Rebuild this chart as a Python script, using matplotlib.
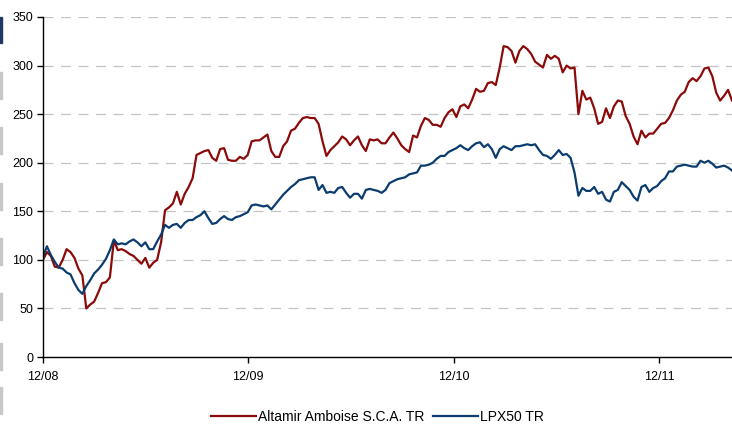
import matplotlib
matplotlib.use("Agg")
from matplotlib import pyplot as plt
import matplotlib.dates as mdates
from matplotlib.patches import Rectangle
import numpy as np
import pandas as pd

plt.rcParams["font.family"] = ["Liberation Sans", "DejaVu Sans"]

# weekly closes, rebased to 100 at 12/08
start = "2008-12-01"
altamir = [
    100, 108, 104, 93, 92, 100, 111, 108, 102, 91, 84, 50, 54, 57, 66, 76, 77, 82, 120, 110,
    111, 109, 106, 104, 100, 96, 102, 92, 97, 100, 118, 151, 154, 158, 170, 157, 168, 175, 184, 208,
    210, 212, 213, 205, 202, 214, 215, 203, 202, 202, 206, 204, 208, 222, 223, 223, 226, 229, 212, 206,
    206, 217, 222, 233, 235, 241, 246, 247, 246, 246, 240, 222, 207, 213, 217, 221, 227, 224, 218, 223,
    227, 218, 212, 224, 223, 224, 220, 220, 226, 231, 225, 218, 214, 211, 228, 226, 238, 246, 244, 239,
    239, 237, 246, 252, 255, 247, 258, 260, 256, 265, 276, 273, 274, 282, 283, 280, 298, 320, 319, 315,
    303, 315, 320, 317, 312, 304, 301, 298, 311, 307, 310, 307, 293, 300, 297, 298, 250, 274, 265, 267,
    256, 240, 242, 256, 246, 258, 264, 263, 248, 240, 227, 219, 233, 226, 230, 230, 235, 240, 241, 246,
    254, 264, 270, 273, 283, 287, 284, 289, 297, 298, 289, 272, 264, 269, 275, 264,
]
lpx50 = [
    103, 114, 105, 98, 92, 91, 87, 85, 76, 69, 65, 73, 79, 86, 90, 95, 101, 110, 121, 116,
    117, 116, 119, 121, 118, 114, 118, 111, 111, 119, 126, 136, 133, 136, 137, 133, 138, 141, 141, 144,
    146, 150, 143, 137, 138, 142, 145, 142, 141, 144, 145, 147, 149, 156, 157, 156, 155, 156, 152, 157,
    162, 167, 171, 175, 178, 182, 183, 184, 185, 185, 172, 177, 169, 170, 169, 174, 175, 169, 164, 168,
    168, 163, 172, 173, 172, 171, 169, 172, 179, 181, 183, 184, 185, 188, 189, 190, 197, 197, 198, 200,
    204, 207, 207, 211, 213, 215, 218, 215, 213, 217, 220, 221, 216, 219, 214, 205, 214, 217, 215, 213,
    217, 217, 218, 219, 218, 219, 213, 208, 207, 204, 208, 213, 208, 209, 205, 190, 166, 174, 171, 171,
    175, 168, 170, 162, 160, 170, 172, 180, 176, 172, 165, 161, 175, 177, 170, 174, 176, 181, 184, 191,
    191, 196, 197, 198, 197, 196, 196, 202, 200, 202, 199, 195, 196, 197, 195, 192,
]
labels = ["Altamir Amboise S.C.A. TR", "LPX50 TR"]
colors = ["#8b0a0a", "#0b3c6e"]

dates = pd.date_range(start, periods=len(altamir), freq="7D")

fig = plt.figure(figsize=(7.32, 4.25), dpi=100)
ax = fig.add_axes([0.0587, 0.16, 0.9413, 0.80])

for vals, lab, col in zip([altamir, lpx50], labels, colors):
    ax.plot(dates, vals, color=col, lw=1.6, label=lab)

ax.set_ylim(0, 350)
ax.set_xlim(dates[0], dates[-1])
ax.set_yticks(np.arange(0, 351, 50))
ax.xaxis.set_major_locator(mdates.YearLocator(month=12, day=1))
ax.xaxis.set_major_formatter(mdates.DateFormatter("%m/%y"))

for y in range(50, 351, 50):
    ax.axhline(y, color="#c4c4c4", lw=0.9, ls=(0, (8, 6)), zorder=0)

for s in ["top", "right"]:
    ax.spines[s].set_visible(False)
for s in ["left", "bottom"]:
    ax.spines[s].set_linewidth(1.0)
    ax.spines[s].set_color("black")
ax.tick_params(axis="both", labelsize=9, length=4, width=1, colors="black")
ax.tick_params(axis="x", pad=6)
ax.tick_params(axis="y", pad=3)

fig.legend(loc="center", bbox_to_anchor=(0.516, 0.018), ncol=2, frameon=False,
           fontsize=10, handlelength=3.2, handletextpad=0.2, columnspacing=0.6)

# slide artefacts on the left border
fig.patches.append(Rectangle((0, 1 - 43 / 425), 2 / 732, 26 / 425, transform=fig.transFigure,
                             color="#1f3864", zorder=5))
for top in [72, 127, 183, 238, 293, 343, 387]:
    fig.patches.append(Rectangle((0, 1 - (top + 27) / 425), 2 / 732, 27 / 425,
                                 transform=fig.transFigure, color="#c8c8c8", zorder=5))

fig.savefig("out.png", dpi=100)
